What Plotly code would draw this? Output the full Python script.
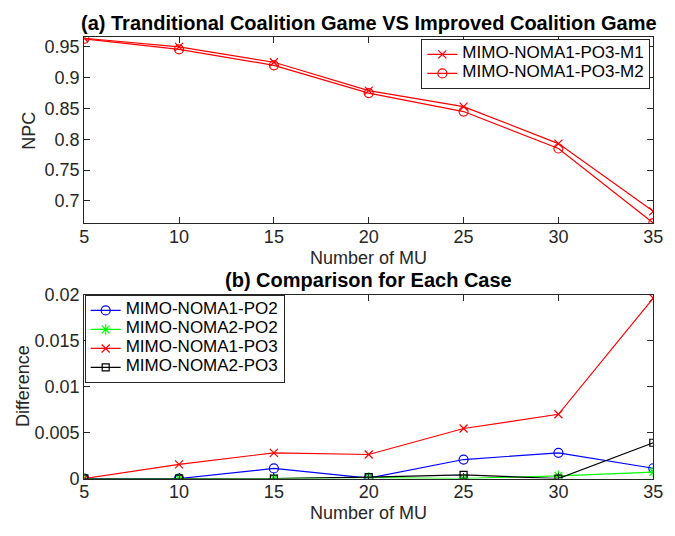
import plotly.graph_objects as go

# Number of mobile users on the x axis
num_mu = [5, 10, 15, 20, 25, 30, 35]

# (a) NPC of the traditional vs improved coalition game
npc_m1 = [0.964, 0.950, 0.925, 0.879, 0.853, 0.793, 0.683]
npc_m2 = [0.963, 0.946, 0.920, 0.875, 0.845, 0.785, 0.664]

# (b) Difference for each case
diff_noma1_po2 = [0.0, 0.0, 0.0011, 0.00005, 0.00207, 0.0028, 0.00112]
diff_noma2_po2 = [0.0, 0.0, 0.0, 0.0001, 0.0, 0.0003, 0.0007]
diff_noma1_po3 = [0.0, 0.00155, 0.0028, 0.00262, 0.00545, 0.0070, 0.01965]
diff_noma2_po3 = [0.0, 0.0, 0.0, 0.00015, 0.0004, 0.0, 0.0039]

x_ticks = [5, 10, 15, 20, 25, 30, 35]
npc_ticks = [0.7, 0.75, 0.8, 0.85, 0.9, 0.95]
diff_ticks = [0, 0.005, 0.01, 0.015, 0.02]

W, H = 675, 536
FONT = "Liberation Sans, Arial, Helvetica, sans-serif"
AX = "rgb(38,38,38)"

fig = go.Figure()


def legend_label(s):
    # larger text inside compact legend rows
    return f"<span style='font-size:17px'>{s}</span>"


def add(x, y, name, color, symbol, size, xa, ya, legend):
    fig.add_trace(go.Scatter(
        x=x, y=y, name=legend_label(name), mode="lines+markers",
        line=dict(color=color, width=1.2),
        marker=dict(symbol=symbol, size=size, color=color,
                    line=dict(color=color, width=1.2)),
        xaxis=xa, yaxis=ya, legend=legend,
    ))


add(num_mu, npc_m1, "MIMO-NOMA1-PO3-M1", "rgb(255,0,0)", "x-thin-open", 8, "x", "y", "legend")
add(num_mu, npc_m2, "MIMO-NOMA1-PO3-M2", "rgb(255,0,0)", "circle-open", 9, "x", "y", "legend")

add(num_mu, diff_noma1_po2, "MIMO-NOMA1-PO2", "rgb(0,0,255)", "circle-open", 9, "x2", "y2", "legend2")
add(num_mu, diff_noma2_po2, "MIMO-NOMA2-PO2", "rgb(0,255,0)", "asterisk-open", 9, "x2", "y2", "legend2")
add(num_mu, diff_noma1_po3, "MIMO-NOMA1-PO3", "rgb(255,0,0)", "x-thin-open", 8, "x2", "y2", "legend2")
add(num_mu, diff_noma2_po3, "MIMO-NOMA2-PO3", "rgb(0,0,0)", "square-open", 7, "x2", "y2", "legend2")

axis_common = dict(
    showline=True, linecolor=AX, linewidth=1, mirror="ticks",
    ticks="inside", ticklen=6, tickcolor=AX, tickwidth=1,
    showgrid=False, zeroline=False,
    tickfont=dict(family=FONT, size=18, color=AX),
)
x_common = dict(axis_common, ticklabelstandoff=-3)

xd = [81 / W, 663 / W]
legend_common = dict(
    bgcolor="white", bordercolor=AX, borderwidth=1,
    font=dict(family=FONT, size=10, color="black"),
    tracegroupgap=0, itemwidth=30,
)
fig.update_layout(
    width=W, height=H,
    margin=dict(l=0, r=0, t=0, b=0),
    paper_bgcolor="white", plot_bgcolor="white",
    font=dict(family=FONT, color=AX),
    xaxis=dict(domain=xd, range=[5, 35], tickvals=x_ticks, anchor="y", **x_common),
    yaxis=dict(domain=[1 - 221.7 / H, 1 - 28.3 / H], range=[0.6634, 0.9656],
               tickvals=npc_ticks, anchor="x", **axis_common),
    xaxis2=dict(domain=xd, range=[5, 35], tickvals=x_ticks, anchor="y2", **x_common),
    yaxis2=dict(domain=[1 - 486.7 / H, 1 - 296 / H], range=[0, 0.02],
                tickvals=diff_ticks, anchor="x2", **axis_common),
    legend=dict(x=660 / W, y=1 - 30 / H, xanchor="right", yanchor="top", **legend_common),
    legend2=dict(x=81.5 / W, y=1 - 296 / H, xanchor="left", yanchor="top", **legend_common),
    showlegend=True,
)


def text(s, x, y, size, bold=False, angle=0):
    fig.add_annotation(
        text=f"<b>{s}</b>" if bold else s, xref="paper", yref="paper",
        x=x / W, y=1 - y / H, xanchor="center", yanchor="middle",
        showarrow=False, textangle=angle,
        font=dict(family=FONT, size=size, color="black" if bold else AX),
    )


text("(a) Tranditional Coalition Game VS Improved Coalition Game", 372, 14, 20, bold=True)
text("Number of MU", 372, 258, 18)
text("NPC", 25, 125, 18, angle=-90)
text("(b) Comparison for Each Case", 372, 280, 20, bold=True)
text("Number of MU", 372, 523, 18)
text("Difference", 19, 391, 18, angle=-90)

fig.write_html("out.html")
